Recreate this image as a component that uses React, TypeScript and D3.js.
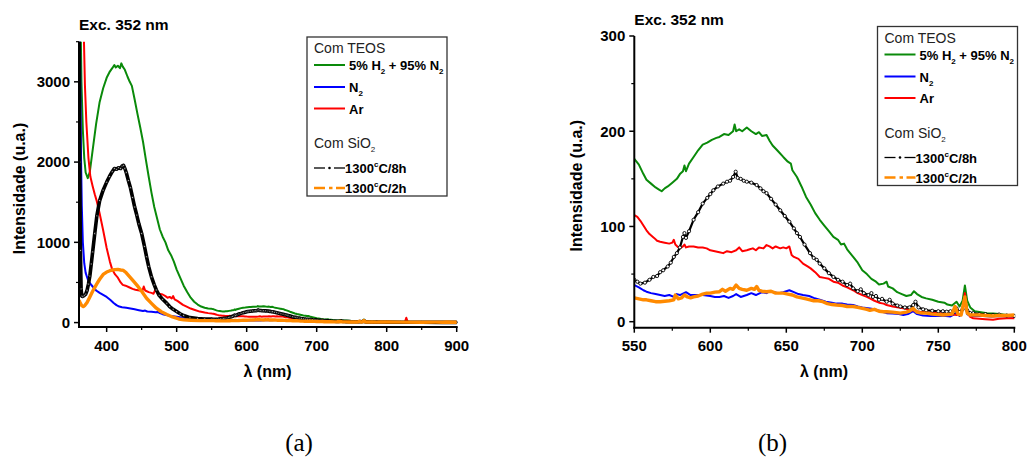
import React from 'react';
import * as d3 from 'd3';

type Pt = [number, number];

// Emission spectra, [wavelength (nm), intensity (a.u.)]
const teosH2N2: Pt[] = [
  [360.5, 6000], [362, 4200], [364, 3000], [366, 2400], [368, 2050], [370, 1870], [373, 1800], [376, 1880],
  [380, 2150], [385, 2480], [390, 2750], [395, 2920], [400, 3050], [404, 3120], [408, 3170], [411, 3210],
  [413, 3180], [416, 3200], [419, 3170], [421, 3230], [423, 3190], [426, 3150], [430, 3060], [433, 3000],
  [436, 2950], [440, 2780], [444, 2600], [448, 2430], [452, 2250], [456, 2030], [460, 1820], [464, 1620],
  [468, 1440], [472, 1300], [476, 1160], [480, 1070], [484, 1000], [488, 900], [492, 840], [496, 760],
  [500, 660], [505, 560], [510, 460], [515, 380], [520, 310], [525, 260], [530, 225], [535, 200],
  [540, 185], [545, 176], [550, 171], [553, 165], [556, 155], [558, 149], [561, 145], [564, 141],
  [566, 139], [568, 137], [570, 140], [572, 142], [575, 146], [578, 150], [580, 155], [582, 158],
  [583, 164], [584, 158], [586, 166], [589, 173], [592, 180], [595, 186], [598, 188], [601, 191],
  [604, 193], [606, 194], [609, 197], [612, 196], [615, 200], [616, 207], [617, 200], [619, 202],
  [621, 200], [624, 204], [627, 200], [630, 197], [632, 199], [634, 195], [637, 196], [639, 190],
  [641, 185], [644, 180], [648, 173], [651, 168], [653, 166], [654, 159], [657, 152], [660, 142],
  [663, 131], [666, 123], [669, 114], [672, 107], [675, 101], [678, 95], [681, 89], [684, 86],
  [686, 81], [688, 82], [690, 76], [694, 68], [697, 62], [700, 54], [703, 50], [706, 45],
  [709, 42], [711, 39], [714, 40], [716, 42], [717, 37], [720, 35], [723, 31], [726, 29],
  [729, 27], [732, 28], [734, 32], [736, 29], [739, 26], [742, 24.5], [746, 23], [750, 21],
  [754, 20], [756, 18], [759, 17], [762, 21], [764, 16], [766, 22], [767.5, 38], [769, 22],
  [771, 15], [774, 11], [778, 10], [782, 9], [786, 8.5], [790, 8], [795, 7], [800, 6.5],
  [810, 6], [830, 5], [850, 4], [870, 4], [900, 3],
];

const teosN2: Pt[] = [
  [360.5, 6000], [361.5, 4000], [362.5, 2800], [363.5, 2000], [364.5, 1450], [366, 1000], [368, 740],
  [370, 620], [373, 540], [376, 490], [380, 450], [385, 400], [390, 370], [395, 345], [400, 320],
  [405, 285], [410, 245], [414, 218], [418, 200], [422, 192], [428, 185], [434, 175], [440, 165],
  [446, 155], [452, 145], [455, 150], [458, 138], [464, 135], [470, 128], [473, 133], [476, 118],
  [480, 105], [485, 95], [490, 85], [500, 72], [510, 60], [520, 52], [530, 46], [540, 42],
  [550, 38.5], [553, 36], [556, 33], [558, 31.5], [561, 30], [564, 29], [567, 28], [570, 27],
  [573, 28], [576, 26], [578, 29], [580, 28], [584, 31], [587, 28], [590, 28], [595, 28],
  [600, 27], [603, 26], [606, 26], [609, 27], [612, 25], [615, 27], [617, 29], [620, 26],
  [624, 28], [627, 30], [630, 28], [634, 31], [637, 30], [639, 32], [642, 31], [645, 30],
  [648, 31], [652, 33], [655, 31], [658, 29], [661, 28], [665, 27], [668, 25], [672, 23],
  [676, 21], [680, 20], [683, 19], [687, 19], [690, 18], [694, 17.5], [697, 16], [700, 15],
  [705, 14], [708, 13], [712, 11], [716, 9], [720, 8.5], [724, 8], [727, 7], [730, 8],
  [733.5, 11], [736, 8], [740, 6.5], [745, 6], [750, 6], [755, 6], [758, 5.5], [762, 9],
  [764, 6], [767.5, 23], [769, 8], [771, 6], [775, 6], [780, 6], [785, 5.5], [790, 6],
  [795, 5.5], [800, 5.5], [820, 5], [850, 4], [880, 4], [900, 3],
];

const teosAr: Pt[] = [
  [360.5, 8000], [364, 5500], [366, 4200], [367.6, 3500], [369, 2950], [371, 2500], [372, 2350],
  [374, 2050], [376.7, 1820], [380, 1700], [383, 1600], [386, 1510], [390, 1360], [395, 1150],
  [400, 930], [404.6, 760], [408, 660], [412, 600], [416, 560], [420, 500], [423, 470], [427, 460],
  [432, 440], [437, 420], [441, 410], [447, 400], [451, 395], [453, 450], [455, 400], [460, 380],
  [464, 370], [467, 360], [470, 420], [472, 380], [475, 360], [480, 350], [484, 330], [487, 310],
  [490, 320], [493, 300], [495, 330], [497, 290], [501, 270], [505, 245], [509, 220], [515, 195],
  [520, 175], [525, 160], [533, 137], [540, 125], [545, 118], [550, 112], [552, 110], [554, 106],
  [556, 101], [558, 96], [560, 92], [563, 88], [565, 85], [567, 84], [570, 83], [573, 82],
  [575, 83], [576, 86], [577, 81], [579, 78], [580, 77], [582, 79], [583, 81], [584, 78],
  [586, 79], [589, 79], [592, 78], [595, 78], [597.6, 77], [600, 75], [603, 74], [606, 73],
  [608.5, 72], [611, 74], [614, 73], [617, 75], [619, 78], [621, 74], [624, 75], [626, 76],
  [628, 77], [630, 75], [632, 78], [635, 77], [637, 80.5], [639, 79], [641, 77], [643, 79],
  [646, 77], [648, 78], [650, 77], [652, 79], [653.5, 70], [655, 68], [658, 66], [661, 61],
  [664, 58], [666, 56], [669, 52], [672, 47], [675, 46], [678, 45], [681, 42], [684, 41],
  [687, 38], [690, 36], [694, 33], [697, 30], [700, 28], [703, 26], [705, 24.5], [708, 22],
  [711, 20], [714, 19], [716, 17.5], [720, 16], [724, 15], [727, 14], [730, 13], [733, 12],
  [736, 11], [738, 10.5], [742, 10], [746, 9.5], [751, 9], [755, 8.5], [758, 8], [762, 7],
  [764, 8], [766, 12], [767.5, 30], [769, 10], [771, 5], [773, 3.5], [777, 3], [781, 2.5],
  [786, 2], [790, 3], [795, 3.5], [800, 3.5], [810, 5], [820, 5], [826, 8], [828, 60],
  [830, 10], [835, 6], [850, 5], [870, 4], [885, 6], [900, 5],
];

const sio2Long: Pt[] = [
  [360.5, 4000], [361.5, 2000], [362.5, 900], [363.5, 420], [364.5, 330], [366, 325], [368, 340],
  [370, 355], [372, 400], [374, 480], [376, 580], [378, 730], [380, 880], [383, 1110], [386, 1330],
  [390, 1520], [395, 1650], [400, 1750], [404, 1820], [408, 1880], [411, 1920], [414, 1910],
  [417, 1930], [420, 1920], [422, 1950], [424, 1960], [426, 1920], [428, 1870], [431, 1770],
  [434, 1680], [437, 1560], [440, 1440], [443, 1340], [446, 1230], [450, 1110], [454, 950],
  [457, 820], [460, 700], [464, 570], [468, 470], [471, 406], [475, 340], [480, 290], [486, 240],
  [490, 200], [495, 165], [500, 137], [505, 110], [510, 88], [519, 62], [530, 50], [540, 45],
  [550, 44], [552, 42], [554, 40], [557, 41], [560, 44], [562.5, 47], [565, 48], [567, 52],
  [569, 54], [572, 58], [574, 62], [576, 68], [578, 72], [580, 78], [582, 89], [583, 93],
  [584, 88], [586, 95], [589, 107], [592, 115], [595, 124], [598, 130], [600, 134], [602, 138],
  [605, 142], [608.5, 145], [611, 147], [613, 148], [615, 152], [616.7, 157.5], [618, 151],
  [620, 150], [622, 148], [624, 147], [627, 146], [630.5, 143.5], [633, 140], [635, 137],
  [637, 135], [640, 129], [643, 123], [646, 117], [649, 111], [652, 105], [655, 98], [657, 93],
  [659, 89], [662, 81], [665.6, 72], [668, 67], [670, 65], [672, 61], [675, 56], [678, 51],
  [681, 47], [684, 44], [687, 42], [690, 38.5], [692, 40], [694, 35], [697, 32], [699, 34],
  [701, 30], [704, 28], [706, 30], [707, 26], [709, 27], [711, 23], [713, 24], [716, 21],
  [718, 23], [720, 19], [723, 17], [725, 16], [728, 15], [731, 15], [733.5, 17.5], [735, 21],
  [737, 15], [740, 13], [742, 12], [746, 11.5], [750, 11], [753, 11], [755.5, 10.5], [758, 11],
  [760, 10], [762, 14], [764, 10], [766, 13], [767.5, 24.5], [769, 12], [771, 9], [773, 9],
  [777, 8], [781, 8], [786, 7], [790, 7.5], [795, 6.5], [800, 6], [820, 5], [850, 4],
  [880, 3], [900, 3],
];

const sio2Short: Pt[] = [
  [360.5, 280], [362, 250], [364, 215], [366.6, 200], [369, 215], [372, 250], [376, 320],
  [380, 390], [385.7, 480], [390, 540], [395, 600], [400, 630], [404.6, 646], [408, 655],
  [412, 660], [416, 662], [420, 655], [424, 650], [428, 620], [433, 571], [438, 520], [445, 447],
  [450, 390], [457, 303], [464, 240], [471, 179], [478, 135], [486, 100], [494, 70], [503, 45],
  [510, 35], [520, 30], [533, 25], [540, 25], [550, 25], [553, 24], [556, 23], [558, 23],
  [561, 22], [564, 21], [567, 21], [570, 21.5], [573, 22], [576, 23], [577, 28], [579, 24],
  [581, 25], [583, 28], [585, 26], [587, 25], [589, 26], [592, 27], [595, 29], [597.6, 30],
  [600, 30], [603, 31], [606, 31.5], [608, 34], [610, 32], [613, 35], [615, 34], [617, 38.5],
  [619, 35], [621, 34], [624, 33], [627, 35], [629, 34], [630.5, 37], [632, 33], [634, 32],
  [637, 31.5], [640, 32], [643, 30], [646, 30], [648, 30], [651, 29], [654, 28], [657, 26],
  [660, 25], [663, 24], [665.6, 23], [668, 22], [671, 22], [674, 21], [677, 19], [680, 18],
  [683, 17.5], [687, 17], [690, 16], [694, 16], [697, 15], [700, 14], [703, 13], [705, 12],
  [708, 13], [711, 11], [714, 10.5], [716, 10.5], [720, 10], [725, 9], [729, 10], [731, 11],
  [733.5, 14], [736, 10], [739, 9], [742, 9], [746, 8], [750, 7.5], [753, 7], [756, 7.5],
  [759, 8], [761, 16], [763, 8], [765, 7], [767.5, 26], [769, 9], [771, 7], [773, 7],
  [777, 7], [781, 6.5], [786, 6], [790, 6.5], [795, 6.5], [800, 7], [820, 6], [850, 5],
  [870, 6], [880, 5], [885, 7], [900, 5],
];

// Axis ticks
const ticksAX = [400, 500, 600, 700, 800, 900];
const minorAX = [450, 550, 650, 750, 850];
const ticksAY = [0, 1000, 2000, 3000];
const minorAY = [500, 1500, 2500, 3500];
const ticksBX = [550, 600, 650, 700, 750, 800];
const minorBX = [575, 625, 675, 725, 775];
const ticksBY = [0, 100, 200, 300];
const minorBY = [50, 150, 250];

const FONT = "'Liberation Sans', Arial, Helvetica, sans-serif";

type Series = { data: Pt[]; color: string; width: number; markers?: boolean };

const seriesList: Series[] = [
  { data: teosH2N2, color: '#0a8a0a', width: 2 },
  { data: teosN2, color: '#0000ff', width: 2 },
  { data: teosAr, color: '#ff0000', width: 2 },
  { data: sio2Long, color: '#000000', width: 2.2, markers: true },
  { data: sio2Short, color: '#ff8a00', width: 3.4 },
];

type PanelProps = {
  id: string;
  left: number; right: number; top: number; bottom: number;
  xDomain: [number, number]; yDomain: [number, number];
  xTicks: number[]; xMinor: number[]; yTicks: number[]; yMinor: number[];
  titleY: number; legendX: number; legendY: number;
  yLabelX: number; yLabelY: number; xLabelX: number; letter: string; letterX: number;
  markerR: number; markerLine: number;
};

function Legend({ x, y }: { x: number; y: number }) {
  const sx0 = x + 7, sx1 = x + 38, tx = x + 42;
  const bold = { fontFamily: FONT, fontWeight: 700, fontSize: 13 } as const;
  const sub = { fontSize: 8 } as const;
  return (
    <g>
      <rect x={x} y={y} width={140} height={159} fill="#fff" stroke="#333" strokeWidth={1.3} />
      <text x={sx0} y={y + 16} fontFamily={FONT} fontSize={14} fill="#222">Com TEOS</text>
      <line x1={sx0} x2={sx1} y1={y + 28} y2={y + 28} stroke="#0a8a0a" strokeWidth={2} />
      <text x={tx} y={y + 33} {...bold}>
        <tspan>5% H</tspan><tspan dy={4} {...sub}>2</tspan>
        <tspan dy={-4}> + 95% N</tspan><tspan dy={4} {...sub}>2</tspan>
      </text>
      <line x1={sx0} x2={sx1} y1={y + 50} y2={y + 50} stroke="#0000ff" strokeWidth={2} />
      <text x={tx} y={y + 55} {...bold}>
        <tspan>N</tspan><tspan dy={4} {...sub}>2</tspan>
      </text>
      <line x1={sx0} x2={sx1} y1={y + 71.5} y2={y + 71.5} stroke="#ff0000" strokeWidth={2} />
      <text x={tx} y={y + 76.5} {...bold}>Ar</text>
      <text x={sx0} y={y + 111} fontFamily={FONT} fontSize={14} fill="#222">
        <tspan>Com SiO</tspan><tspan dy={4} fontSize={8}>2</tspan>
      </text>
      <line x1={sx0} x2={sx0 + 11} y1={y + 131} y2={y + 131} stroke="#000" strokeWidth={1.3} />
      <circle cx={sx0 + 15.5} cy={y + 131} r={1.3} fill="#000" />
      <line x1={sx0 + 20} x2={sx1} y1={y + 131} y2={y + 131} stroke="#000" strokeWidth={1.3} />
      <text x={tx - 4} y={y + 136} {...bold}>
        <tspan>1300</tspan><tspan dy={-6} {...sub}>c</tspan><tspan dy={6}>C/8h</tspan>
      </text>
      <line x1={sx0} x2={sx0 + 11} y1={y + 151} y2={y + 151} stroke="#ff8a00" strokeWidth={2.5} />
      <line x1={sx0 + 15} x2={sx0 + 18.5} y1={y + 151} y2={y + 151} stroke="#ff8a00" strokeWidth={2.5} />
      <line x1={sx0 + 22} x2={sx1} y1={y + 151} y2={y + 151} stroke="#ff8a00" strokeWidth={2.5} />
      <text x={tx - 4} y={y + 156} {...bold}>
        <tspan>1300</tspan><tspan dy={-6} {...sub}>c</tspan><tspan dy={6}>C/2h</tspan>
      </text>
    </g>
  );
}

function Panel(p: PanelProps) {
  const xs = d3.scaleLinear().domain(p.xDomain).range([p.left, p.right]);
  const ys = d3.scaleLinear().domain(p.yDomain).range([p.bottom, p.top]);
  const line = d3.line<Pt>().x(d => xs(d[0])).y(d => ys(d[1]));
  const tickFont = { fontFamily: FONT, fontWeight: 700, fontSize: 15 } as const;
  const visible = (data: Pt[]) => data.filter(d => d[0] >= p.xDomain[0] - 3 && d[0] <= p.xDomain[1] + 3);
  return (
    <g>
      <defs>
        <clipPath id={`clip-${p.id}`}>
          <rect x={p.left} y={p.top} width={p.right - p.left + 1} height={p.bottom - p.top} />
        </clipPath>
      </defs>
      <g clipPath={`url(#clip-${p.id})`}>
        {seriesList.map((s, i) => {
          const pts = visible(s.data);
          const w = s.markers ? p.markerLine : s.width;
          return (
            <g key={i}>
              <path d={line(pts) ?? ''} fill="none" stroke={s.color} strokeWidth={w} strokeLinejoin="round" />
              {s.markers && pts.map((d, j) => (
                <circle key={j} cx={xs(d[0])} cy={ys(d[1])} r={p.markerR} fill="#fff" stroke="#000" strokeWidth={0.9} />
              ))}
            </g>
          );
        })}
      </g>
      {/* axes */}
      <line x1={p.left} x2={p.left} y1={p.top} y2={p.bottom + 1} stroke="#000" strokeWidth={2} />
      <line x1={p.left - 1} x2={p.right + 1} y1={p.bottom} y2={p.bottom} stroke="#000" strokeWidth={2} />
      {p.xTicks.map(t => (
        <g key={`xt${t}`}>
          <line x1={xs(t)} x2={xs(t)} y1={p.bottom} y2={p.bottom + 5} stroke="#000" strokeWidth={1.5} />
          <text x={xs(t)} y={p.bottom + 23.5} textAnchor="middle" {...tickFont}>{t}</text>
        </g>
      ))}
      {p.xMinor.map(t => (
        <line key={`xm${t}`} x1={xs(t)} x2={xs(t)} y1={p.bottom} y2={p.bottom + 3} stroke="#000" strokeWidth={1.2} />
      ))}
      {p.yTicks.map(t => (
        <g key={`yt${t}`}>
          <line x1={p.left - 5} x2={p.left} y1={ys(t)} y2={ys(t)} stroke="#000" strokeWidth={1.5} />
          <text x={p.left - 9} y={ys(t)} dy="0.36em" textAnchor="end" {...tickFont}>{t}</text>
        </g>
      ))}
      {p.yMinor.map(t => (
        <line key={`ym${t}`} x1={p.left - 3} x2={p.left} y1={ys(t)} y2={ys(t)} stroke="#000" strokeWidth={1.2} />
      ))}
      <text x={p.left} y={p.titleY} fontFamily={FONT} fontWeight={700} fontSize={15.5}>Exc. 352 nm</text>
      <text transform={`translate(${p.yLabelX},${p.yLabelY}) rotate(-90)`} textAnchor="middle"
        fontFamily={FONT} fontWeight={700} fontSize={16}>Intensidade (u.a.)</text>
      <text x={p.xLabelX} y={377} textAnchor="middle" fontFamily={FONT} fontWeight={700} fontSize={16}>λ (nm)</text>
      <Legend x={p.legendX} y={p.legendY} />
      <text x={p.letterX} y={451} textAnchor="middle" fontFamily="'Liberation Serif', 'Times New Roman', serif" fontSize={25}>{p.letter}</text>
    </g>
  );
}

export default function App() {
  return (
    <svg width={1027} height={457} style={{ position: 'absolute', left: 0, top: 0, background: '#fff' }}>
      <rect width={1027} height={457} fill="#fff" />
      <Panel id="a" left={79} right={456.7} top={41.7} bottom={327}
        xDomain={[360.5, 900]} yDomain={[-55, 3500]}
        xTicks={ticksAX} xMinor={minorAX} yTicks={ticksAY} yMinor={minorAY}
        titleY={30} legendX={307} legendY={37} yLabelX={25} yLabelY={188.5}
        xLabelX={267.5} letter="(a)" letterX={299} markerR={0.9} markerLine={3.6} />
      <Panel id="b" left={634.3} right={1014.3} top={36} bottom={327.7}
        xDomain={[550, 800]} yDomain={[-6.3, 300]}
        xTicks={ticksBX} xMinor={minorBX} yTicks={ticksBY} yMinor={minorBY}
        titleY={25} legendX={877.5} legendY={26.5} yLabelX={582} yLabelY={185.7}
        xLabelX={824} letter="(b)" letterX={772.5} markerR={1.6} markerLine={2.2} />
    </svg>
  );
}
